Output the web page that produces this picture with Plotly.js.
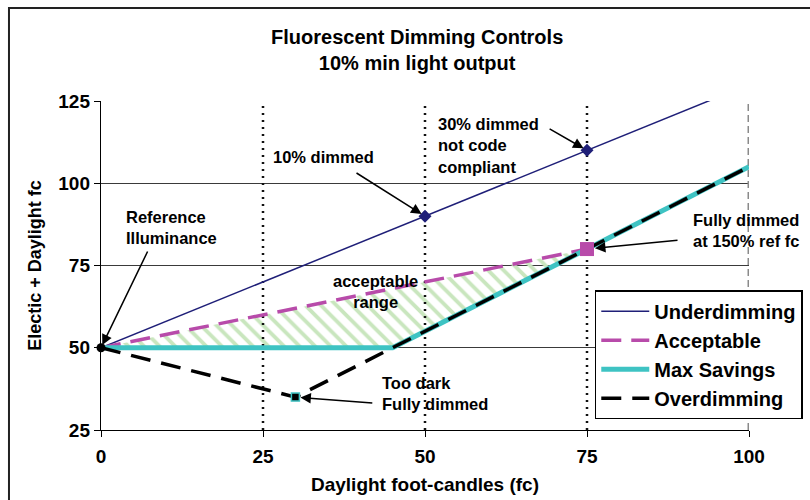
<!DOCTYPE html>
<html>
<head>
<meta charset="utf-8">
<script src="https://cdn.plot.ly/plotly-3.0.1.min.js"></script>
<style>html,body{margin:0;padding:0;background:#fff;}#chart{width:810px;height:500px;}</style>
</head>
<body>
<div id="chart"></div>
<script>
// ---- data ----
var underX = [0, 50, 75, 100];
var underY = [50, 90, 110, 130];
var acceptX = [0, 75];
var acceptY = [50, 80];
var maxSavX = [0, 45, 75, 100];
var maxSavY = [50, 50, 80, 105];
var overX = [0, 30, 75, 100];
var overY = [50, 35, 80, 105];
var hatchX = [0, 75, 45, 0];
var hatchY = [50, 80, 50, 50];
var underMarkX = [50, 75];
var underMarkY = [90, 110];
var fullDimX = [75];
var fullDimY = [80];
var darkX = [30];
var darkY = [35];
var refX = [0];
var refY = [50];
var guideX = [25, 50, 75];
var edgeX = [100];
var yLimits = [25, 125];
var xTicks = [0, 25, 50, 75, 100];
var yTicks = [25, 50, 75, 100, 125];

var FONT = 'Arial, "Liberation Sans", sans-serif';
var navy = '#1F1F78', magenta = '#B84BAA', teal = '#3EC3C3', hatchGreen = '#C9E6BE';

var traces = [];
traces.push({x: hatchX, y: hatchY, mode: 'none', fill: 'toself', fillcolor: 'rgba(255,255,255,0)',
  fillpattern: {shape: '\\', fgcolor: hatchGreen, bgcolor: 'rgba(255,255,255,0)', size: 11, solidity: 0.35},
  showlegend: false, hoverinfo: 'skip'});
guideX.forEach(function (gx) {
  traces.push({x: [gx, gx], y: yLimits, mode: 'lines', line: {color: '#111', width: 2.5, dash: '2px,5px'},
    showlegend: false, hoverinfo: 'skip'});
});
edgeX.forEach(function (gx) {
  traces.push({x: [gx, gx], y: yLimits, mode: 'lines', line: {color: '#8a8a8a', width: 3, dash: '7px,4px'},
    showlegend: false, hoverinfo: 'skip'});
});
traces.push({x: underX, y: underY, name: 'Underdimming', mode: 'lines', line: {color: navy, width: 1.5}});
traces.push({x: acceptX, y: acceptY, name: 'Acceptable', mode: 'lines', line: {color: magenta, width: 3.5, dash: '20px,10px'}});
traces.push({x: maxSavX, y: maxSavY, name: 'Max Savings', mode: 'lines', line: {color: teal, width: 5}});
traces.push({x: overX, y: overY, name: 'Overdimming', mode: 'lines', line: {color: '#000', width: 3.5, dash: '20px,11px'}});
traces.push({x: underMarkX, y: underMarkY, mode: 'markers', marker: {symbol: 'diamond', size: 10, color: navy},
  showlegend: false, cliponaxis: false});
traces.push({x: fullDimX, y: fullDimY, mode: 'markers', marker: {symbol: 'square', size: 14, color: magenta},
  showlegend: false, cliponaxis: false});
traces.push({x: darkX, y: darkY, mode: 'markers', marker: {symbol: 'square', size: 8, color: '#000', line: {color: teal, width: 1.5}},
  showlegend: false, cliponaxis: false});
traces.push({x: refX, y: refY, mode: 'markers', marker: {symbol: 'circle', size: 9, color: '#000'},
  showlegend: false, cliponaxis: false});

function arrow(x, y, ax, ay, standoff) {
  return {x: x, y: y, ax: ax, ay: ay, axref: 'x', ayref: 'y', text: '', showarrow: true,
    arrowhead: 2, arrowsize: 1.4, arrowwidth: 1.5, arrowcolor: '#000', standoff: standoff};
}
function label(x, y, text, xanchor, align) {
  return {x: x, y: y, text: text, showarrow: false, xanchor: xanchor, yanchor: 'middle', align: align,
    font: {family: FONT, size: 16.5, color: '#000'}};
}
var annotations = [
  arrow(refX[0], refY[0], 7.3, 79.7, 3),
  arrow(underMarkX[0], underMarkY[0], 39.2, 103.4, 4),
  arrow(underMarkX[1], underMarkY[1], 69, 116.8, 4),
  arrow(fullDimX[0], fullDimY[0], 89.2, 82.7, 8),
  arrow(darkX[0], darkY[0], 42.1, 33.2, 5),
  label(3.5, 86.7, '<b>Reference</b><br><b>Illuminance</b>', 'left', 'left'),
  label(34.3, 108, '<b>10% dimmed</b>', 'center', 'center'),
  label(51.7, 111.6, '<b>30% dimmed</b><br><b>not code</b><br><b>compliant</b>', 'left', 'left'),
  label(99.5, 85.5, '<b>Fully dimmed</b><br><b>at 150% ref fc</b>', 'center', 'center'),
  label(42.3, 67.2, '<b>acceptable</b><br><b>range</b>', 'center', 'center'),
  label(43.1, 36.2, '<b>Too dark</b><br><b>Fully dimmed</b>', 'left', 'left')
];

var layout = {
  width: 810, height: 500,
  margin: {l: 101, r: 61, t: 101, b: 70, autoexpand: false},
  paper_bgcolor: '#fff', plot_bgcolor: '#fff',
  font: {family: FONT, color: '#000'},
  title: {text: '<b>Fluorescent Dimming Controls</b><br><b>10% min light output</b>',
    font: {family: FONT, size: 20, color: '#000'}, x: 0.515, xanchor: 'center', y: 0.912, yanchor: 'middle'},
  xaxis: {range: [0, 100], tickvals: xTicks, ticktext: xTicks.map(String), showgrid: false, zeroline: false, automargin: false,
    showline: true, linecolor: '#000', linewidth: 1.2, ticks: 'outside', ticklen: 6, tickcolor: '#000', ticklabelstandoff: 3,
    tickfont: {family: FONT, size: 19, color: '#000', weight: 'bold'},
    title: {text: '<b>Daylight foot-candles (fc)</b>', font: {family: FONT, size: 19, color: '#000'}, standoff: 11}},
  yaxis: {range: yLimits, tickvals: yTicks, ticktext: yTicks.map(String), showgrid: true, gridcolor: '#3a3a3a', gridwidth: 1,
    zeroline: false, showline: true, linecolor: '#000', linewidth: 1.2, ticks: 'outside', ticklen: 6, tickcolor: '#000', automargin: false,
    tickfont: {family: FONT, size: 19, color: '#000', weight: 'bold'},
    title: {text: '<b>Electic + Daylight fc</b>', font: {family: FONT, size: 18, color: '#000'}, standoff: 12}},
  legend: {x: 0.762, y: 0.425, xanchor: 'left', yanchor: 'top', bgcolor: '#fff', bordercolor: '#000', borderwidth: 1.5,
    font: {family: FONT, size: 20, color: '#000', weight: 'bold'}, itemwidth: 48, tracegroupgap: 0},
  shapes: [
    {type: 'rect', xref: 'paper', yref: 'paper', x0: -0.142, x1: 1.3, y0: -0.4, y1: 1.283,
      line: {color: '#222', width: 2}, fillcolor: 'rgba(0,0,0,0)', layer: 'below'}
  ],
  annotations: annotations
};

Plotly.newPlot('chart', traces, layout, {displayModeBar: false, staticPlot: true});
</script>
</body>
</html>
